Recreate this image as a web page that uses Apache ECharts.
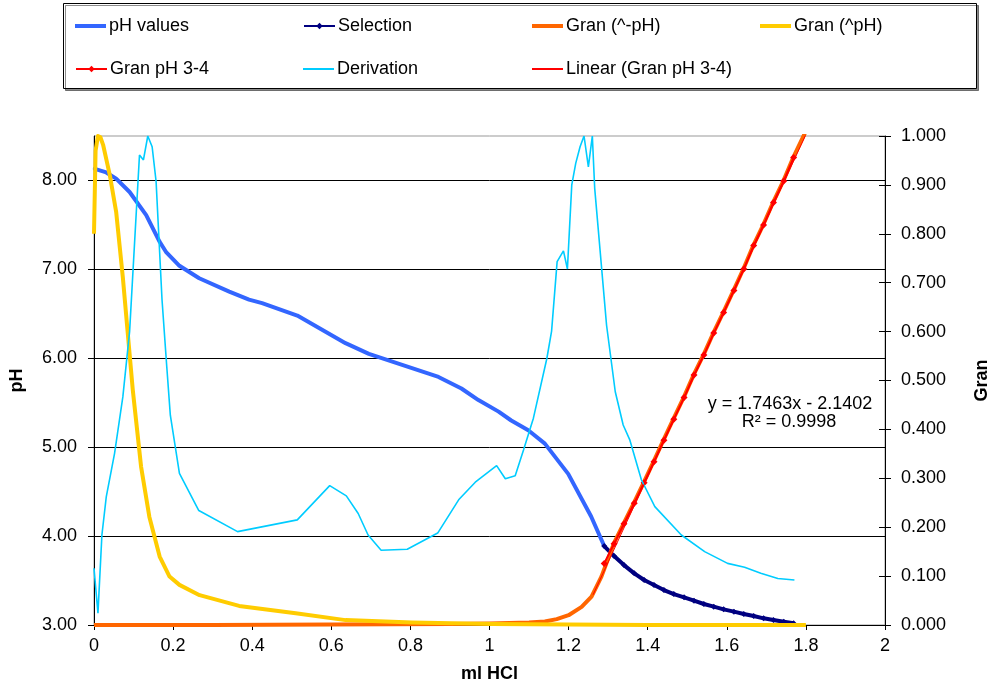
<!DOCTYPE html>
<html>
<head>
<meta charset="utf-8">
<script src="https://cdn.jsdelivr.net/npm/echarts@6/dist/echarts.min.js"></script>
<style>html,body{margin:0;padding:0;background:#fff}#c{width:999px;height:689px}</style>
</head>
<body>
<div id="c"></div>
<script>
// ---- data ----
const phX = [0.002,0.031,0.056,0.090,0.132,0.166,0.183,0.216,0.266,0.342,0.392,0.425,0.514,0.636,0.695,0.871,0.929,0.972,1.023,1.055,1.098,1.140,1.199,1.257,1.290];
const phY = [8.13,8.09,8.02,7.87,7.61,7.31,7.19,7.04,6.90,6.75,6.66,6.62,6.48,6.17,6.05,5.79,5.66,5.53,5.40,5.30,5.19,5.04,4.70,4.22,3.888];

const selX = [1.290,1.315,1.340,1.366,1.391,1.416,1.441,1.466,1.492,1.517,1.542,1.567,1.592,1.618,1.643,1.668,1.693,1.718,1.744,1.769];
const selY = [3.888,3.775,3.674,3.581,3.506,3.449,3.393,3.348,3.311,3.273,3.236,3.206,3.176,3.150,3.124,3.101,3.075,3.056,3.037,3.019];

const gran34Y = [0.126,0.166,0.207,0.249,0.291,0.334,0.378,0.421,0.465,0.511,0.552,0.597,0.639,0.684,0.728,0.776,0.818,0.864,0.908,0.956];

const granNegX = [0,0.3,0.6,0.9,1.0,1.1,1.14,1.17,1.2,1.233,1.258,1.283,1.315,1.340,1.366,1.391,1.416,1.441,1.466,1.492,1.517,1.542,1.567,1.592,1.618,1.643,1.668,1.693,1.718,1.744,1.769,1.800];
const granNegY = [0,0,0.001,0.002,0.003,0.005,0.007,0.012,0.020,0.037,0.058,0.099,0.168,0.209,0.251,0.293,0.336,0.380,0.423,0.467,0.513,0.554,0.599,0.641,0.686,0.730,0.778,0.820,0.866,0.910,0.958,1.010];

const granPosX = [0,0.004,0.010,0.016,0.023,0.040,0.056,0.073,0.085,0.098,0.119,0.140,0.166,0.191,0.216,0.267,0.367,0.510,0.636,0.804,1.006,1.2,1.4,1.6,1.8];
const granPosY = [0.80,0.97,1.0,0.998,0.982,0.920,0.845,0.71,0.60,0.481,0.324,0.221,0.140,0.099,0.082,0.061,0.039,0.024,0.010,0.005,0.002,0.001,0,0,0];

const derivX = [0,0.010,0.020,0.031,0.052,0.073,0.090,0.115,0.125,0.136,0.147,0.157,0.172,0.184,0.193,0.216,0.265,0.363,0.514,0.596,0.638,0.668,0.693,0.726,0.792,0.869,0.922,0.964,1.018,1.040,1.065,1.086,1.111,1.145,1.157,1.171,1.187,1.197,1.208,1.218,1.229,1.239,1.250,1.260,1.266,1.296,1.318,1.338,1.355,1.384,1.418,1.485,1.544,1.602,1.645,1.686,1.729,1.771];
const derivY = [0.116,0.024,0.184,0.262,0.351,0.467,0.600,0.961,0.951,1.0,0.978,0.907,0.665,0.528,0.429,0.310,0.234,0.191,0.215,0.285,0.264,0.228,0.184,0.153,0.155,0.188,0.256,0.292,0.326,0.299,0.305,0.358,0.423,0.545,0.601,0.743,0.765,0.728,0.900,0.944,0.978,1.0,0.937,1.0,0.893,0.613,0.477,0.409,0.378,0.297,0.242,0.184,0.150,0.126,0.118,0.106,0.095,0.092];

const linX = [1.262,1.800];
const linY = [0.062,1.003];

const seriesNames = ['pH values','Selection','Gran (^-pH)','Gran (^pH)','Gran pH 3-4','Derivation','Linear (Gran pH 3-4)'];
const eqLines = ['y = 1.7463x - 2.1402','R\u00b2 = 0.9998'];
const pHTicks = [3,4,5,6,7,8];

// ---- build ----
const zip = (xs, ys) => xs.map((x, i) => [x, ys[i]]);
const FONT = '"Liberation Sans", Arial, sans-serif';
const txt = {fontFamily: FONT, fontSize: 18, color: '#000'};

// legend layout: [left, top, icon, iconHeight]
const legendLayout = [
  [75, 17, 'rect', 4], [303, 17, null, 8], [532, 17, 'rect', 4], [760, 17, 'rect', 4],
  [75, 60, null, 8], [303, 60, 'rect', 2], [532, 60, 'rect', 2]
];

const chart = echarts.init(document.getElementById('c'), null, {renderer: 'canvas'});
chart.setOption({
  animation: false,
  backgroundColor: '#fff',
  textStyle: {fontFamily: FONT},
  legend: seriesNames.map((n, i) => {
    const L = legendLayout[i];
    const lg = {
      data: [n], left: L[0], top: L[1],
      itemWidth: 31, itemHeight: L[3], itemGap: 0, padding: 0,
      selectedMode: false, textStyle: {fontFamily: FONT, fontSize: 18, color: '#000', padding: [0,0,0,-2]}
    };
    if (L[2]) lg.icon = L[2];
    return lg;
  }),
  graphic: [
    {type: 'rect', left: 63, top: 3, shape: {x: 0, y: 0, width: 913, height: 85},
     style: {fill: '#fff', stroke: '#000', lineWidth: 1, shadowColor: 'rgba(0,0,0,0.45)', shadowOffsetX: 2, shadowOffsetY: 2, shadowBlur: 0}, z: -10},
    {type: 'text', x: 790, y: 404, style: {text: eqLines[0], font: '18px ' + FONT, fill: '#000', align: 'center', verticalAlign: 'middle'}, z: 50},
    {type: 'text', x: 789, y: 422, style: {text: eqLines[1], font: '18px ' + FONT, fill: '#000', align: 'center', verticalAlign: 'middle'}, z: 50}
  ],
  grid: {left: 94, right: 111, top: 136, bottom: 64, show: true, borderColor: '#999', borderWidth: 1, backgroundColor: '#fff'},
  xAxis: {
    type: 'value', min: 0, max: 2, interval: 0.2,
    name: 'ml HCl', nameLocation: 'middle', nameGap: 40,
    nameTextStyle: {fontFamily: FONT, fontSize: 18, fontWeight: 'bold', color: '#000'},
    axisLine: {show: true, onZero: false, lineStyle: {color: '#000', width: 1}},
    axisTick: {show: true, inside: false, length: 5, lineStyle: {color: '#000'}},
    axisLabel: Object.assign({margin: 12}, txt),
    splitLine: {show: false}
  },
  yAxis: [
    {
      type: 'value', min: 3, max: 8.5, interval: 1, position: 'left',
      name: 'pH', nameLocation: 'middle', nameGap: 68, nameRotate: 90,
      nameTextStyle: {fontFamily: FONT, fontSize: 18, fontWeight: 'bold', color: '#000'},
      axisLine: {show: true, lineStyle: {color: '#000', width: 1}},
      axisTick: {show: true, length: 6, lineStyle: {color: '#000'}, customValues: pHTicks},
      axisLabel: Object.assign({margin: 17, customValues: pHTicks, formatter: v => v.toFixed(2)}, txt),
      splitLine: {show: true, lineStyle: {color: ['#000','#000','#000','#000','#000','#000','#999'], width: 1}}
    },
    {
      type: 'value', min: 0, max: 1, interval: 0.1, position: 'right',
      name: 'Gran', nameLocation: 'middle', nameGap: 88, nameRotate: 90,
      nameTextStyle: {fontFamily: FONT, fontSize: 18, fontWeight: 'bold', color: '#000'},
      axisLine: {show: true, lineStyle: {color: '#000', width: 1}},
      axisTick: {show: true, length: 6, lineStyle: {color: '#000'}},
      axisLabel: Object.assign({margin: 16, formatter: v => v.toFixed(3)}, txt),
      splitLine: {show: false}
    },
    {
      type: 'value', min: 0, max: 1, interval: 0.1, position: 'right',
      axisLine: {show: false},
      axisTick: {show: true, inside: true, length: 6, lineStyle: {color: '#000'}},
      axisLabel: {show: false},
      splitLine: {show: false}
    }
  ],
  series: [
    {name: seriesNames[0], type: 'line', yAxisIndex: 0, data: zip(phX, phY), symbol: 'none',
     lineStyle: {color: '#3366FF', width: 4, cap: 'round', join: 'round'}, itemStyle: {color: '#3366FF'}, z: 2},
    {name: seriesNames[1], type: 'line', yAxisIndex: 0, data: zip(selX, selY), symbol: 'diamond', symbolSize: 6, showSymbol: true,
     lineStyle: {color: '#000080', width: 4, join: 'round'}, itemStyle: {color: '#000080'}, z: 3},
    {name: seriesNames[2], type: 'line', yAxisIndex: 1, data: zip(granNegX, granNegY), symbol: 'none',
     lineStyle: {color: '#FF6600', width: 4, join: 'round'}, itemStyle: {color: '#FF6600'}, z: 4},
    {name: seriesNames[3], type: 'line', yAxisIndex: 1, data: zip(granPosX, granPosY), symbol: 'none',
     lineStyle: {color: '#FFCC00', width: 4, join: 'round'}, itemStyle: {color: '#FFCC00'}, z: 5},
    {name: seriesNames[4], type: 'line', yAxisIndex: 1, data: zip(selX, gran34Y), symbol: 'diamond', symbolSize: 7, showSymbol: true,
     lineStyle: {color: '#FF0000', width: 2}, itemStyle: {color: '#FF0000'}, z: 6},
    {name: seriesNames[5], type: 'line', yAxisIndex: 1, data: zip(derivX, derivY), symbol: 'none',
     lineStyle: {color: '#00CCFF', width: 1.6}, itemStyle: {color: '#00CCFF'}, z: 7},
    {name: seriesNames[6], type: 'line', yAxisIndex: 1, data: zip(linX, linY), symbol: 'none',
     lineStyle: {color: '#FF0000', width: 1}, itemStyle: {color: '#FF0000'}, z: 8}
  ]
});
</script>
</body>
</html>
